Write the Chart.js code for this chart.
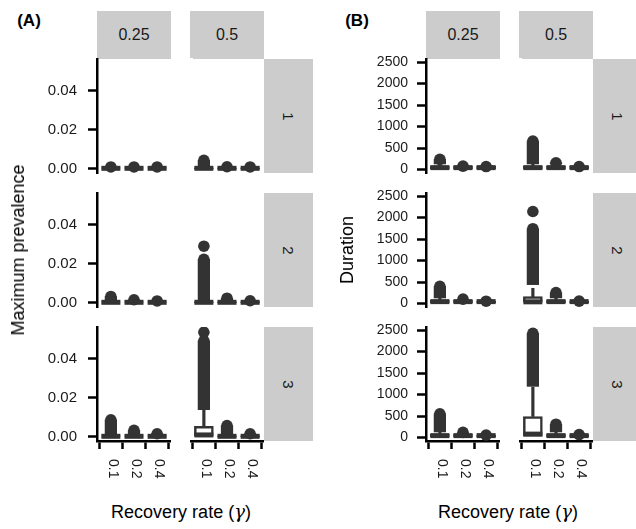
<!DOCTYPE html>
<html>
<head>
<meta charset="utf-8">
<script src="https://cdn.jsdelivr.net/npm/chart.js@4.4.0/dist/chart.umd.min.js"></script>
<style>
body { margin: 0; background: #fff; font-family: "Liberation Sans", Arial, sans-serif; }
#wrap { position: relative; width: 636px; height: 529px; overflow: hidden; }
canvas { position: absolute; }
.strip { position: absolute; background: #cccccc; color: #1a1a1a; font-size: 16px;
         display: flex; align-items: center; justify-content: center; }
.txt { position: absolute; white-space: nowrap; color: #000; line-height: 1;
       transform: translate(-50%, -50%); }
.cover { position: absolute; background: #fff; }
</style>
</head>
<body>
<div id="wrap"></div>
<script>
// facets are listed row by row: [row1 0.25, row1 0.5, row2 0.25, row2 0.5, row3 0.25, row3 0.5]
// each facet holds the three recovery rates 0.1, 0.2, 0.4
const gammaLabels = ['0.1', '0.2', '0.4'];
const colLabels = ['0.25', '0.5'];
const rowLabels = ['1', '2', '3'];
const prevTicks = [0, 0.02, 0.04];
const durTicks = [0, 500, 1000, 1500, 2000, 2500];

// (A) maximum prevalence
const prevQ1 = [
  [0, 0, 0], [0, 0, 0], [0, 0, 0], [0, 0, 0], [0, 0, 0], [0.0003, 0, 0]];
const prevMed = [
  [0.0002, 0.0002, 0.0002], [0.0002, 0.0002, 0.0002], [0.0002, 0.0002, 0.0002],
  [0.0002, 0.0002, 0.0002], [0.0002, 0.0002, 0.0002], [0.0009, 0.0002, 0.0002]];
const prevQ3 = [
  [0.0004, 0.0004, 0.0004], [0.0004, 0.0004, 0.0004], [0.0004, 0.0004, 0.0004],
  [0.0004, 0.0004, 0.0004], [0.0004, 0.0004, 0.0004], [0.0053, 0.0004, 0.0004]];
const prevWhisk = [
  [0.0009, 0.0009, 0.0009], [0.0009, 0.0009, 0.0009], [0.0009, 0.0009, 0.0009],
  [0.0009, 0.0009, 0.0009], [0.0009, 0.0009, 0.0009], [0.0135, 0.0009, 0.0009]];
const prevOutLo = [
  [0.0009, 0.0009, 0.0009], [0.0009, 0.0009, 0.0009], [0.0009, 0.0009, 0.0009],
  [0.0009, 0.0009, 0.0009], [0.0009, 0.0009, 0.0009], [0.0138, 0.0009, 0.0009]];
const prevOutMax = [
  [0.0009, 0.0009, 0.0009], [0.0043, 0.0010, 0.0009], [0.0032, 0.0015, 0.0009],
  [0.0222, 0.0023, 0.0010], [0.0086, 0.0033, 0.0015], [0.0490, 0.0057, 0.0015]];
const prevExtra = [
  [null, null, null], [null, null, null], [null, null, null],
  [0.0289, null, null], [null, null, null], [0.0534, null, null]];

// (B) duration
const durQ1 = [
  [15, 15, 15], [15, 15, 15], [15, 15, 15], [30, 15, 15], [15, 15, 15], [35, 15, 15]];
const durMed = [
  [45, 45, 45], [45, 45, 45], [45, 45, 45], [40, 45, 45], [45, 45, 45], [80, 45, 45]];
const durQ3 = [
  [75, 75, 75], [75, 75, 75], [75, 75, 55], [160, 75, 57], [75, 75, 58], [490, 75, 70]];
const durWhisk = [
  [130, 80, 70], [130, 130, 70], [130, 103, 55], [355, 130, 57], [130, 120, 58], [1172, 130, 70]];
const durOutLo = [
  [130, 80, 70], [130, 130, 70], [130, 103, 55], [440, 130, 57], [130, 120, 58], [1190, 130, 70]];
const durOutMax = [
  [237, 80, 70], [663, 158, 70], [402, 103, 55], [1740, 253, 57], [553, 120, 58], [2425, 311, 70]];
const durExtra = [
  [null, null, null], [null, null, null], [null, null, null],
  [2140, null, null], [null, null, null], [null, null, null]];

const DARK = '#333333';
const FONT = '"Liberation Sans", Arial, sans-serif';
const ROW_TOP = [59, 193, 327];
const PLOT_W = 74, PLOT_H = 114, PAD_T = 8, X_H = 45, Y_W = 90;

const panels = [
  { label: '(A)', labelX: 29, title: 'Maximum prevalence', titleX: 18, xTitleX: 181,
    left: [97, 190], stripW: 49, min: -0.0022, max: 0.0561, ticks: prevTicks, fontSize: 15, pad: 11,
    fmt: v => v.toFixed(2),
    q1: prevQ1, med: prevMed, q3: prevQ3, whisk: prevWhisk, outLo: prevOutLo, outMax: prevOutMax, extra: prevExtra },
  { label: '(B)', labelX: 357, title: 'Duration', titleX: 347, xTitleX: 508,
    left: [426, 519], stripW: 49, min: -80, max: 2570, ticks: durTicks, fontSize: 14, pad: 9,
    fmt: v => String(v),
    q1: durQ1, med: durMed, q3: durQ3, whisk: durWhisk, outLo: durOutLo, outMax: durOutMax, extra: durExtra }
];

const wrap = document.getElementById('wrap');

function addDiv(cls, css, html) {
  const d = document.createElement('div');
  d.className = cls;
  d.style.cssText = css;
  d.innerHTML = html;
  wrap.appendChild(d);
  return d;
}

// x tick labels read top-to-bottom, like the ggplot original
const rotLabels = {
  id: 'rotLabels',
  afterDraw(chart, args, opts) {
    if (!opts.on) return;
    const sx = chart.scales.x, ctx = chart.ctx;
    ctx.save();
    ctx.fillStyle = '#1a1a1a';
    ctx.font = '14px ' + FONT;
    ctx.textAlign = 'left';
    ctx.textBaseline = 'middle';
    sx.ticks.forEach((t, i) => {
      ctx.save();
      ctx.translate(sx.getPixelForValue(t.value) + 2, sx.top + 18);
      ctx.rotate(Math.PI / 2);
      ctx.fillText(gammaLabels[i], 0, 0);
      ctx.restore();
    });
    ctx.restore();
  }
};

const pts = arr => arr.map((v, i) => v == null ? null : { x: i + 1, y: v }).filter(Boolean);
const ranges = (lo, hi) => lo.map((v, i) => ({ x: i + 1, y: [v, hi[i]] }));

panels.forEach(p => {
  colLabels.forEach((lab, c) => {
    addDiv('strip', `left:${p.left[c]}px;top:11px;width:${PLOT_W}px;height:48px;`, lab);
  });
  rowLabels.forEach((lab, r) => {
    addDiv('strip', `left:${p.left[1] + PLOT_W}px;top:${ROW_TOP[r]}px;width:${p.stripW}px;height:${PLOT_H}px;font-size:15px;`,
      `<span style="display:inline-block;transform:rotate(90deg)">${lab}</span>`);
  });

  for (let r = 0; r < 3; r++) {
    for (let c = 0; c < 2; c++) {
      const f = r * 2 + c;
      const showX = r === 2, showY = c === 0;
      const yw = showY ? Y_W : 0;
      const cv = document.createElement('canvas');
      const w = PLOT_W + yw, h = PAD_T + PLOT_H + (showX ? X_H : PAD_T);
      cv.width = w; cv.height = h;
      cv.style.left = (p.left[c] - yw) + 'px';
      cv.style.top = (ROW_TOP[r] - PAD_T) + 'px';
      cv.style.width = w + 'px'; cv.style.height = h + 'px';
      wrap.appendChild(cv);

      new Chart(cv, {
        type: 'bar',
        plugins: [rotLabels],
        data: {
          datasets: [
            { type: 'scatter', data: pts(p.med[f]), pointStyle: 'line', pointRadius: 9.5,
              pointBorderWidth: 5, pointBorderColor: DARK, order: 0 },
            { type: 'bar', data: ranges(p.q1[f], p.q3[f]), backgroundColor: '#ffffff', borderColor: DARK,
              borderWidth: 2.5, borderSkipped: false, grouped: false, maxBarThickness: 19,
              barPercentage: 1, categoryPercentage: 1, order: 1 },
            { type: 'bar', data: ranges(p.q3[f], p.whisk[f]), backgroundColor: DARK, borderWidth: 0,
              grouped: false, maxBarThickness: 2.5, barPercentage: 1, categoryPercentage: 1, order: 2 },
            { type: 'bar', data: ranges(p.outLo[f], p.outMax[f]), backgroundColor: DARK, borderWidth: 0,
              grouped: false, maxBarThickness: 11.6, barPercentage: 1, categoryPercentage: 1, order: 3 },
            { type: 'scatter', data: pts(p.outMax[f]), pointRadius: 5.8, pointBorderWidth: 0,
              pointBackgroundColor: DARK, order: 3 },
            { type: 'scatter', data: pts(p.extra[f]), pointRadius: 5.8, pointBorderWidth: 0,
              pointBackgroundColor: DARK, order: 3 }
          ]
        },
        options: {
          responsive: false,
          animation: false,
          events: [],
          layout: { padding: { top: PAD_T, bottom: showX ? 0 : PAD_T, left: 0, right: 0 }, autoPadding: false },
          plugins: { legend: { display: false }, tooltip: { enabled: false }, rotLabels: { on: showX } },
          scales: {
            x: {
              type: 'linear', min: 0.4, max: 3.6, offset: false, display: showX,
              afterBuildTicks: ax => { ax.ticks = gammaLabels.map((_, i) => ({ value: i + 1 })); },
              afterFit: ax => { ax.height = showX ? X_H : 0; ax.paddingLeft = 0; ax.paddingRight = 0; },
              border: { display: showX, color: '#000', width: 2.5 },
              grid: { display: showX, drawOnChartArea: false, drawTicks: true, tickLength: 8,
                      tickWidth: 2.5, tickColor: '#000' },
              ticks: { display: false }
            },
            y: {
              min: p.min, max: p.max, display: showY,
              afterBuildTicks: ax => { ax.ticks = p.ticks.map(v => ({ value: v })); },
              afterFit: ax => { ax.width = showY ? Y_W : 0; ax.paddingTop = 0; ax.paddingBottom = 0; },
              border: { display: showY, color: '#000', width: 2.5 },
              grid: { display: showY, drawOnChartArea: false, drawTicks: true, tickLength: 9,
                      tickWidth: 2.5, tickColor: '#000' },
              ticks: { display: showY, color: '#1a1a1a', padding: p.pad, font: { size: p.fontSize, family: FONT },
                       callback: v => p.fmt(v) }
            }
          }
        }
      });
    }
  }

  // the right-hand facets have no y axis line in the original
  ROW_TOP.forEach(top => {
    addDiv('cover', `left:${p.left[1] - 5}px;top:${top - 1}px;width:8px;height:${PLOT_H - 1}px;`, '');
  });

  addDiv('txt', `left:${p.labelX}px;top:20px;font-weight:bold;font-size:17px;`, p.label);
  addDiv('txt', `left:${p.titleX}px;top:250px;font-size:18px;transform:translate(-50%,-50%) rotate(-90deg);`, p.title);
  addDiv('txt', `left:${p.xTitleX}px;top:512px;font-size:18px;`,
    'Recovery rate (<span style="font-family:\'DejaVu Serif\',serif;font-style:italic">γ</span>)');
});
</script>
</body>
</html>
